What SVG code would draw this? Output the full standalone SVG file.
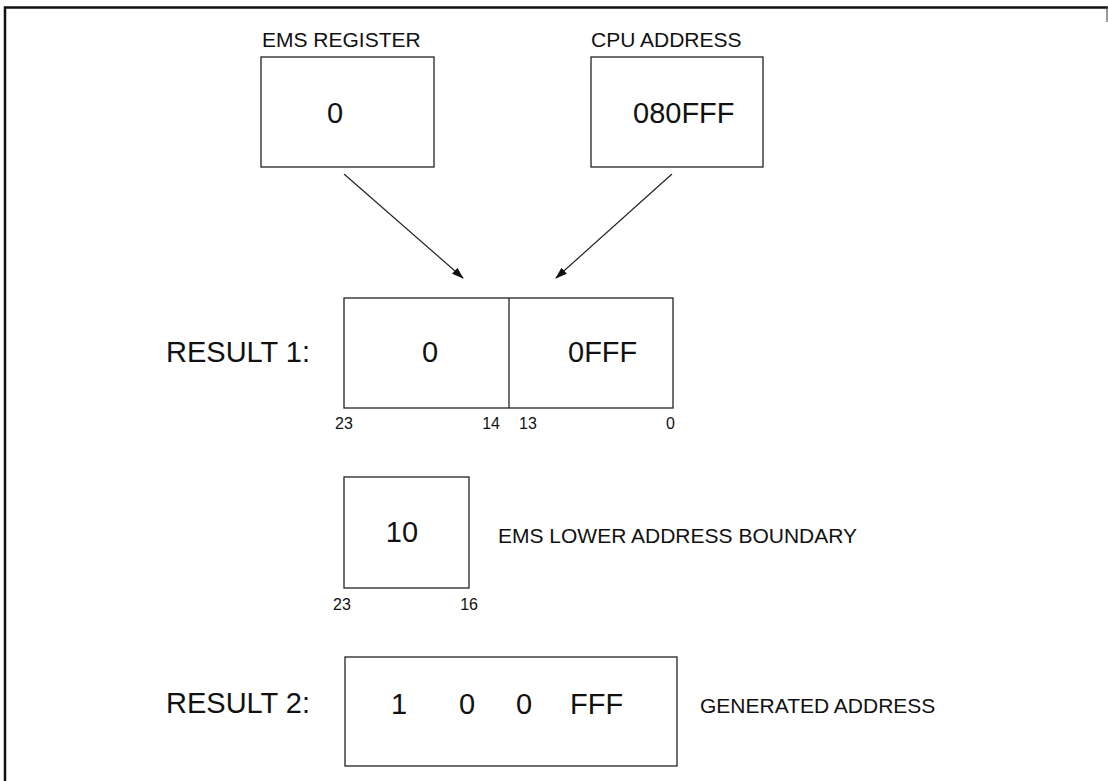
<svg xmlns="http://www.w3.org/2000/svg" width="1108" height="781" viewBox="0 0 1108 781">
<style>
text{font-family:"Liberation Sans",Arial,sans-serif;fill:#111}
.lbl{font-size:21px}
.big{font-size:29px}
.bit{font-size:16px}
.box{fill:none;stroke:#222;stroke-width:1.3}
.conn{stroke:#222;stroke-width:1.2;fill:none}
.frame{fill:none;stroke:#111;stroke-width:2.5}
</style>
<defs>
<marker id="ah" markerUnits="userSpaceOnUse" markerWidth="12" markerHeight="8" refX="11" refY="4" orient="auto">
<path d="M0,0 L12,4 L0,8 z" fill="#111"/>
</marker>
</defs>
<rect width="1108" height="781" fill="#fff"/>
<path class="frame" d="M5,790 V7.5 H1108"/>
<line x1="1107" y1="7" x2="1107" y2="22" stroke="#555" stroke-width="1.2"/>

<g id="ems-register">
<text class="lbl" x="262" y="47">EMS REGISTER</text>
<rect class="box" x="261" y="57" width="173" height="110"/>
<text class="big" x="335" y="123" text-anchor="middle">0</text>
</g>

<g id="cpu-address">
<text class="lbl" x="591" y="47">CPU ADDRESS</text>
<rect class="box" x="591" y="57" width="172" height="110"/>
<text class="big" x="633" y="123">080FFF</text>
</g>

<g id="connectors">
<line class="conn" x1="344" y1="174" x2="463" y2="278" marker-end="url(#ah)"/>
<line class="conn" x1="672" y1="174" x2="556" y2="278" marker-end="url(#ah)"/>
</g>

<g id="result1">
<text class="big" x="166" y="362">RESULT 1:</text>
<rect class="box" x="344" y="298" width="329" height="110"/>
<line class="box" x1="509" y1="298" x2="509" y2="408"/>
<text class="big" x="430" y="362" text-anchor="middle">0</text>
<text class="big" x="568" y="362">0FFF</text>
<text class="bit" x="335" y="429">23</text>
<text class="bit" x="500" y="429" text-anchor="end">14</text>
<text class="bit" x="519" y="429">13</text>
<text class="bit" x="675" y="429" text-anchor="end">0</text>
</g>

<g id="ems-lower">
<rect class="box" x="344" y="477" width="125" height="111"/>
<text class="big" x="402" y="542" text-anchor="middle">10</text>
<text class="lbl" x="498" y="543">EMS LOWER ADDRESS BOUNDARY</text>
<text class="bit" x="333" y="610">23</text>
<text class="bit" x="478" y="610" text-anchor="end">16</text>
</g>

<g id="result2">
<text class="big" x="166" y="713">RESULT 2:</text>
<rect class="box" x="345" y="657" width="332" height="109"/>
<text class="big" x="399" y="714" text-anchor="middle">1</text>
<text class="big" x="467" y="714" text-anchor="middle">0</text>
<text class="big" x="524" y="714" text-anchor="middle">0</text>
<text class="big" x="570" y="714">FFF</text>
<text class="lbl" x="700" y="713">GENERATED ADDRESS</text>
</g>
</svg>
